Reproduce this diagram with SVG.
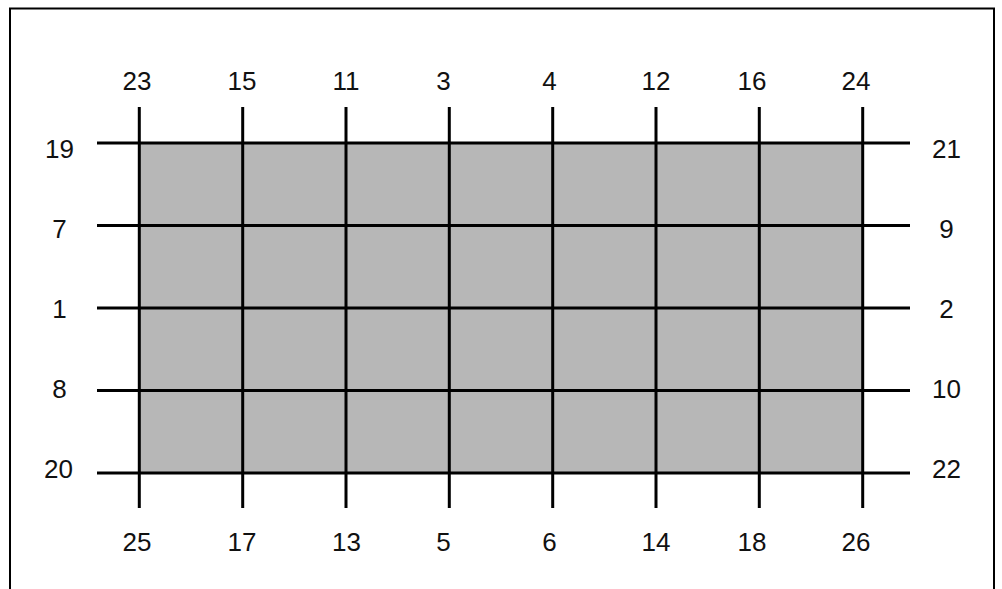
<svg xmlns="http://www.w3.org/2000/svg" width="1002" height="589" viewBox="0 0 1002 589">
<style>
.ln{stroke:#000;stroke-width:3;fill:none}
.lb{font-family:"Liberation Sans",Arial,sans-serif;font-size:26px;fill:#111;text-anchor:middle}
</style>
<rect x="0" y="0" width="1002" height="589" fill="#fff"/>
<rect id="frame" x="10" y="8.5" width="984" height="590" fill="none" stroke="#000" stroke-width="2"/>
<g id="field"><rect x="139" y="143" width="724" height="330" fill="#b7b7b7"/></g>
<g id="connectors">
<line class="ln" x1="97" y1="143" x2="910" y2="143"/>
<line class="ln" x1="97" y1="225.5" x2="910" y2="225.5"/>
<line class="ln" x1="97" y1="308" x2="910" y2="308"/>
<line class="ln" x1="97" y1="390.5" x2="910" y2="390.5"/>
<line class="ln" x1="97" y1="473" x2="910" y2="473"/>
<line class="ln" x1="139.3" y1="107" x2="139.3" y2="508"/>
<line class="ln" x1="242.7" y1="107" x2="242.7" y2="508"/>
<line class="ln" x1="346" y1="107" x2="346" y2="508"/>
<line class="ln" x1="449.3" y1="107" x2="449.3" y2="508"/>
<line class="ln" x1="552.7" y1="107" x2="552.7" y2="508"/>
<line class="ln" x1="656" y1="107" x2="656" y2="508"/>
<line class="ln" x1="759.3" y1="107" x2="759.3" y2="508"/>
<line class="ln" x1="862.7" y1="107" x2="862.7" y2="508"/>
</g>
<g id="top-labels">
<text class="lb" x="137" y="90">23</text>
<text class="lb" x="242" y="90">15</text>
<text class="lb" x="346" y="90">11</text>
<text class="lb" x="443.5" y="90">3</text>
<text class="lb" x="549.5" y="90">4</text>
<text class="lb" x="656" y="90">12</text>
<text class="lb" x="752" y="90">16</text>
<text class="lb" x="856" y="90">24</text>
</g>
<g id="bottom-labels">
<text class="lb" x="137" y="551">25</text>
<text class="lb" x="242" y="551">17</text>
<text class="lb" x="346.5" y="551">13</text>
<text class="lb" x="443.5" y="551">5</text>
<text class="lb" x="549.5" y="551">6</text>
<text class="lb" x="656" y="551">14</text>
<text class="lb" x="752" y="551">18</text>
<text class="lb" x="856" y="551">26</text>
</g>
<g id="left-labels">
<text class="lb" x="59.5" y="158">19</text>
<text class="lb" x="59.5" y="238">7</text>
<text class="lb" x="59.5" y="318">1</text>
<text class="lb" x="59.5" y="398">8</text>
<text class="lb" x="58.5" y="478">20</text>
</g>
<g id="right-labels">
<text class="lb" x="946.5" y="158">21</text>
<text class="lb" x="946.5" y="238">9</text>
<text class="lb" x="946.5" y="318">2</text>
<text class="lb" x="946.5" y="398">10</text>
<text class="lb" x="946.5" y="478">22</text>
</g>
</svg>
